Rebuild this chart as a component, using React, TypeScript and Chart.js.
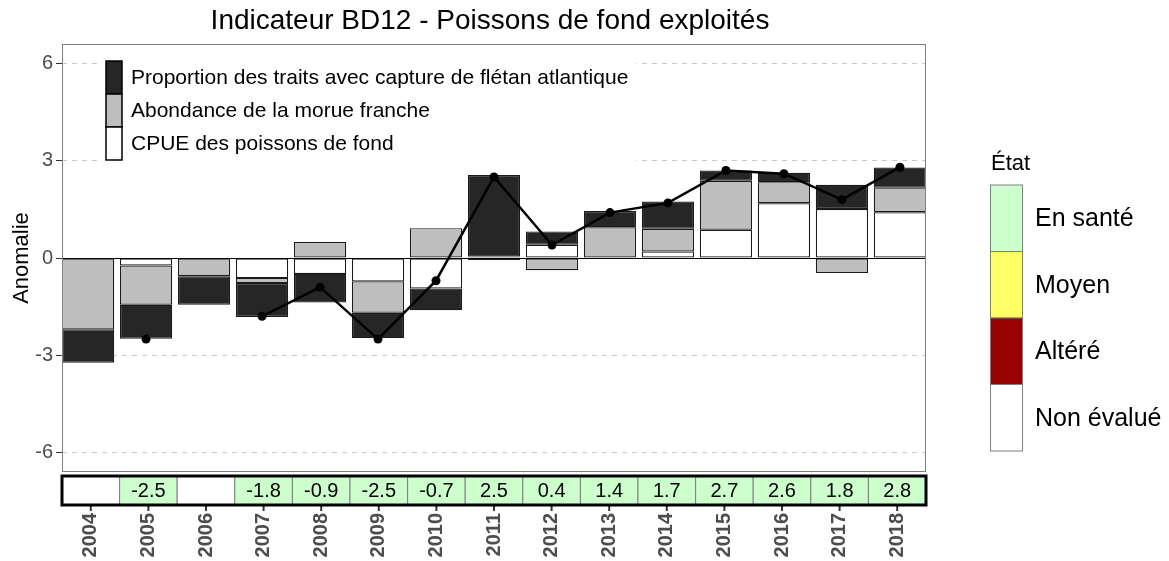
import { useEffect, useRef } from 'react';
import { Chart, registerables } from 'chart.js';

Chart.register(...registerables);

const years = ['2004', '2005', '2006', '2007', '2008', '2009', '2010', '2011', '2012', '2013', '2014', '2015', '2016', '2017', '2018'];
// CPUE des poissons de fond (white)
const cpue = [null, -0.23, null, -0.62, -0.49, -0.72, -0.94, -0.06, 0.41, -0.03, 0.2, 0.87, 1.69, 1.51, 1.41];
// Abondance de la morue franche (grey)
const morue = [-2.2, -1.21, -0.56, -0.15, 0.49, -0.97, 0.92, 0.05, -0.38, 0.95, 0.7, 1.51, 0.65, -0.46, 0.76];
// Proportion des traits avec capture de flétan atlantique (black)
const fletan = [-1.03, -1.05, -0.88, -1.05, -0.88, -0.78, -0.67, 2.51, 0.41, 0.5, 0.84, 0.32, 0.29, 0.75, 0.62];
// Indicator value (line and table)
const indexValues = [null, -2.5, null, -1.8, -0.9, -2.5, -0.7, 2.5, 0.4, 1.4, 1.7, 2.7, 2.6, 1.8, 2.8];
// État of each year: 0 En santé, 1 Moyen, 2 Altéré, 3 Non évalué
const yearStatus = [3, 0, 3, 0, 0, 0, 0, 0, 0, 0, 0, 0, 0, 0, 0];
const yTicks = [-6, -3, 0, 3, 6];
const seriesLabels = [
  'Proportion des traits avec capture de flétan atlantique',
  'Abondance de la morue franche',
  'CPUE des poissons de fond',
];
const seriesColors = ['#262626', '#BEBEBE', '#FFFFFF'];
const etatLabels = ['En santé', 'Moyen', 'Altéré', 'Non évalué'];
const etatColors = ['#CCFFCC', '#FFFF66', '#990000', '#FFFFFF'];
const chartTitle = 'Indicateur BD12 - Poissons de fond exploités';
const yTitle = 'Anomalie';
const legendTitle = 'État';

const FONT = '"Liberation Sans", Arial, Helvetica, sans-serif';

const decor = {
  id: 'decor',
  beforeDatasetsDraw(chart: any) {
    const { ctx, chartArea: a, scales } = chart;
    ctx.save();
    // inner legend background (hides grid lines)
    ctx.fillStyle = '#FFFFFF';
    ctx.fillRect(101, 50, 535, 117);
    // zero line
    const y0 = Math.round(scales.y.getPixelForValue(0)) + 0.5;
    ctx.strokeStyle = '#000000';
    ctx.lineWidth = 1;
    ctx.beginPath();
    ctx.moveTo(a.left, y0);
    ctx.lineTo(a.right, y0);
    ctx.stroke();
    ctx.restore();
  },
  afterDraw(chart: any) {
    const { ctx, chartArea: a, scales } = chart;
    ctx.save();
    // panel border
    ctx.strokeStyle = '#7F7F7F';
    ctx.lineWidth = 1;
    ctx.strokeRect(a.left + 0.5, a.top + 0.5, a.right - a.left - 1, a.bottom - a.top - 1);

    // title
    ctx.fillStyle = '#000000';
    ctx.font = `28px ${FONT}`;
    ctx.textAlign = 'center';
    ctx.textBaseline = 'middle';
    ctx.fillText(chartTitle, 490, 21);

    // y title
    ctx.save();
    ctx.translate(22, (a.top + a.bottom) / 2);
    ctx.rotate(-Math.PI / 2);
    ctx.font = `22px ${FONT}`;
    ctx.fillText(yTitle, 0, 0);
    ctx.restore();

    // inner legend (keys stacked)
    const kx = 106, ky = 61, kw = 16, kh = 33;
    ctx.font = `21px ${FONT}`;
    ctx.textAlign = 'left';
    ctx.textBaseline = 'middle';
    for (let i = 0; i < seriesLabels.length; i++) {
      ctx.fillStyle = seriesColors[i];
      ctx.fillRect(kx, ky + i * kh, kw, kh);
      ctx.strokeStyle = '#000000';
      ctx.lineWidth = 1.5;
      ctx.strokeRect(kx, ky + i * kh, kw, kh);
      ctx.fillStyle = '#000000';
      ctx.fillText(seriesLabels[i], 131, ky + i * kh + kh / 2 + 1);
    }

    // status table strip
    const xc = scales.xCat;
    const n = years.length;
    const cw = (xc.right - xc.left) / n;
    const st = 476, sb = 505;
    ctx.font = `20px ${FONT}`;
    ctx.textAlign = 'center';
    for (let i = 0; i < n; i++) {
      const cx = xc.getPixelForValue(i);
      ctx.fillStyle = etatColors[yearStatus[i]];
      ctx.fillRect(cx - cw / 2, st, cw, sb - st);
      ctx.strokeStyle = '#7F7F7F';
      ctx.lineWidth = 1;
      ctx.strokeRect(cx - cw / 2, st, cw, sb - st);
      const v = indexValues[i];
      if (v !== null) {
        ctx.fillStyle = '#000000';
        ctx.fillText(v.toFixed(1), cx, (st + sb) / 2 + 1);
      }
      // tick mark
      ctx.strokeStyle = '#333333';
      ctx.lineWidth = 2;
      ctx.beginPath();
      ctx.moveTo(cx, sb + 1);
      ctx.lineTo(cx, sb + 6);
      ctx.stroke();
    }
    ctx.strokeStyle = '#000000';
    ctx.lineWidth = 3;
    ctx.strokeRect(xc.left, st, xc.right - xc.left, sb - st);

    // right legend
    ctx.fillStyle = '#000000';
    ctx.font = `22px ${FONT}`;
    ctx.textAlign = 'left';
    ctx.fillText(legendTitle, 991, 164);
    const lx = 990, ly = 185, lw = 32, lh = 66.5;
    ctx.font = `25px ${FONT}`;
    for (let i = 0; i < etatLabels.length; i++) {
      ctx.fillStyle = etatColors[i];
      ctx.fillRect(lx, ly + i * lh, lw, lh);
      ctx.strokeStyle = '#7F7F7F';
      ctx.lineWidth = 1;
      ctx.strokeRect(lx + 0.5, ly + i * lh, lw, lh);
      ctx.fillStyle = '#000000';
      ctx.fillText(etatLabels[i], 1035, ly + i * lh + lh / 2 + 1);
    }
    ctx.restore();
  },
};

export default function App() {
  const ref = useRef<HTMLCanvasElement | null>(null);
  useEffect(() => {
    if (!ref.current) return;
    const barStyle = {
      borderColor: '#1A1A1A',
      borderWidth: 1.2,
      borderSkipped: false,
      barPercentage: 0.9,
      categoryPercentage: 1,
      stack: 'bars',
      order: 1,
      xAxisID: 'x',
      yAxisID: 'y',
    };
    const chart = new Chart(ref.current, {
      type: 'bar',
      data: {
        datasets: [
          {
            type: 'line',
            label: 'Indicateur',
            data: indexValues.map((v, i) => ({ x: i, y: v })),
            borderColor: '#000000',
            backgroundColor: '#000000',
            borderWidth: 2.5,
            pointRadius: 4.5,
            pointBorderWidth: 0,
            pointBackgroundColor: '#000000',
            spanGaps: false,
            stack: 'line',
            order: 0,
            xAxisID: 'x',
            yAxisID: 'y',
          } as any,
          { ...barStyle, label: seriesLabels[2], data: cpue.map((v, i) => ({ x: i, y: v })), backgroundColor: seriesColors[2] } as any,
          { ...barStyle, label: seriesLabels[1], data: morue.map((v, i) => ({ x: i, y: v })), backgroundColor: seriesColors[1] } as any,
          { ...barStyle, label: seriesLabels[0], data: fletan.map((v, i) => ({ x: i, y: v })), backgroundColor: seriesColors[0] } as any,
        ],
      },
      options: {
        animation: false,
        responsive: false,
        devicePixelRatio: 1,
        layout: { padding: { top: 44, right: 243, left: 0, bottom: 0 } },
        plugins: { legend: { display: false }, title: { display: false }, tooltip: { enabled: false } },
        scales: {
          x: { type: 'linear', min: -0.45, max: 14.45, offset: false, display: false, stacked: true },
          xCat: {
            type: 'category',
            labels: years,
            position: 'bottom',
            offset: true,
            grid: { display: false, drawTicks: false },
            border: { display: false },
            ticks: {
              minRotation: 90,
              maxRotation: 90,
              autoSkip: false,
              padding: 41,
              color: '#4D4D4D',
              font: { family: FONT, size: 20, weight: 'bold' },
            },
            afterFit(s: any) { s.height = 89; },
          },
          y: {
            type: 'linear',
            min: -6.6,
            max: 6.6,
            stacked: true,
            afterBuildTicks(s: any) { s.ticks = yTicks.map((v) => ({ value: v })); },
            afterFit(s: any) { s.width = 62; },
            grid: {
              color: (c: any) => (c.tick && c.tick.value === 0 ? 'rgba(0,0,0,0)' : '#C8C8C8'),
              lineWidth: 1,
              drawTicks: true,
              tickLength: 6,
              tickColor: '#333333',
            },
            border: { display: false, dash: [5, 5] },
            ticks: { padding: 3, color: '#4D4D4D', font: { family: FONT, size: 20 } },
          },
        } as any,
      },
      plugins: [decor],
    } as any);
    return () => chart.destroy();
  }, []);
  return (
    <canvas
      ref={ref}
      width={1169}
      height={561}
      style={{ position: 'absolute', left: 0, top: 0, width: 1169, height: 561 }}
    />
  );
}
